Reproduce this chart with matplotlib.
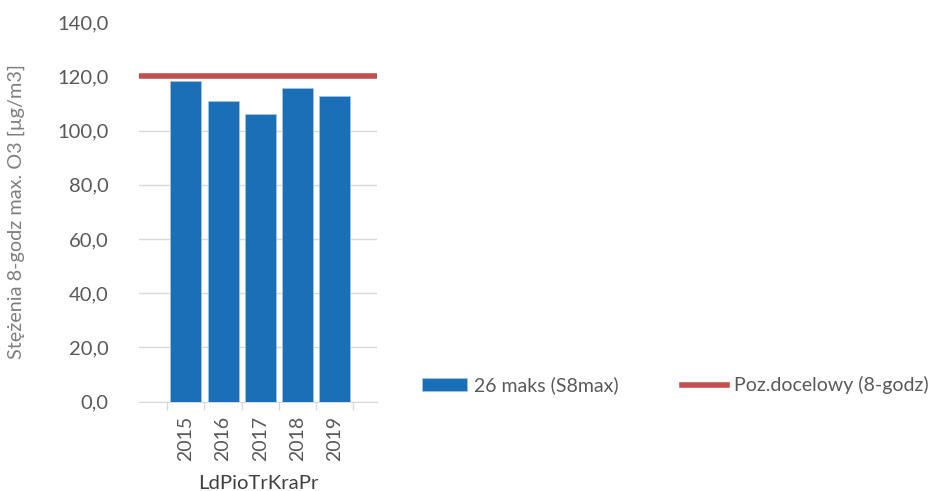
import numpy as np
import matplotlib
matplotlib.use("Agg")
import matplotlib.pyplot as plt
from matplotlib.ticker import FuncFormatter

# data
years = ["2015", "2016", "2017", "2018", "2019"]
s8max = [118.2, 111.0, 106.0, 115.8, 112.6]
target = 120.0

series_label = "26 maks (S8max)"
target_label = "Poz.docelowy (8-godz)"
ylabel = "Stężenia 8-godz max. O3 [µg/m3]"
xlabel = "LdPioTrKraPr"

plt.rcParams['font.family'] = ['Lato', 'DejaVu Sans']

fig = plt.figure(figsize=(9.41, 4.91), dpi=100)
ax = fig.add_axes([0.148, 0.182, 0.2526, 0.773])

x = np.arange(len(years))
bars = ax.bar(x, s8max, width=0.83, color="#1b6fb7", edgecolor="#9fc3e6",
              linewidth=0.6, zorder=3, label=series_label)
line = ax.axhline(target, color="#c0504d", linewidth=4, zorder=4, label=target_label)

ax.set_ylim(0, 140)
ax.set_xlim(-1.25, 5.13)
ax.set_yticks(np.arange(0, 141, 20))
ax.yaxis.set_major_formatter(FuncFormatter(lambda v, p: ("%.1f" % v).replace(".", ",")))
ax.grid(axis="y", color="#d9d9d9", linewidth=1, zorder=0)
ax.get_ygridlines()[-1].set_visible(False)

ax.set_xticks(x)
ax.set_xticklabels(years, rotation=90)
ax.set_xticks(np.arange(-0.5, len(years)), minor=True)
ax.tick_params(axis="x", which="major", length=0, pad=10, labelsize=14, labelcolor="#595959")
ax.tick_params(axis="x", which="minor", length=6, color="#d9d9d9", width=1)
ax.tick_params(axis="y", length=0, pad=22, labelsize=14.5, labelcolor="#595959")

for s in ["top", "right", "left"]:
    ax.spines[s].set_visible(False)
ax.spines["bottom"].set_color("#d9d9d9")

ax.set_ylabel(ylabel, fontsize=14.3, color="#7f7f7f")
ax.set_xlabel(xlabel, fontsize=14.6, color="#404040", labelpad=10)
ax.yaxis.set_label_coords(-0.48, 0.5)

fig.legend(handles=[bars, line], loc="center left", bbox_to_anchor=(0.43, 0.215),
           ncol=2, frameon=False, fontsize=14, handlelength=2.3, handletextpad=0.35,
           columnspacing=3.3, labelcolor="#595959")

fig.savefig("out.png", dpi=100)
